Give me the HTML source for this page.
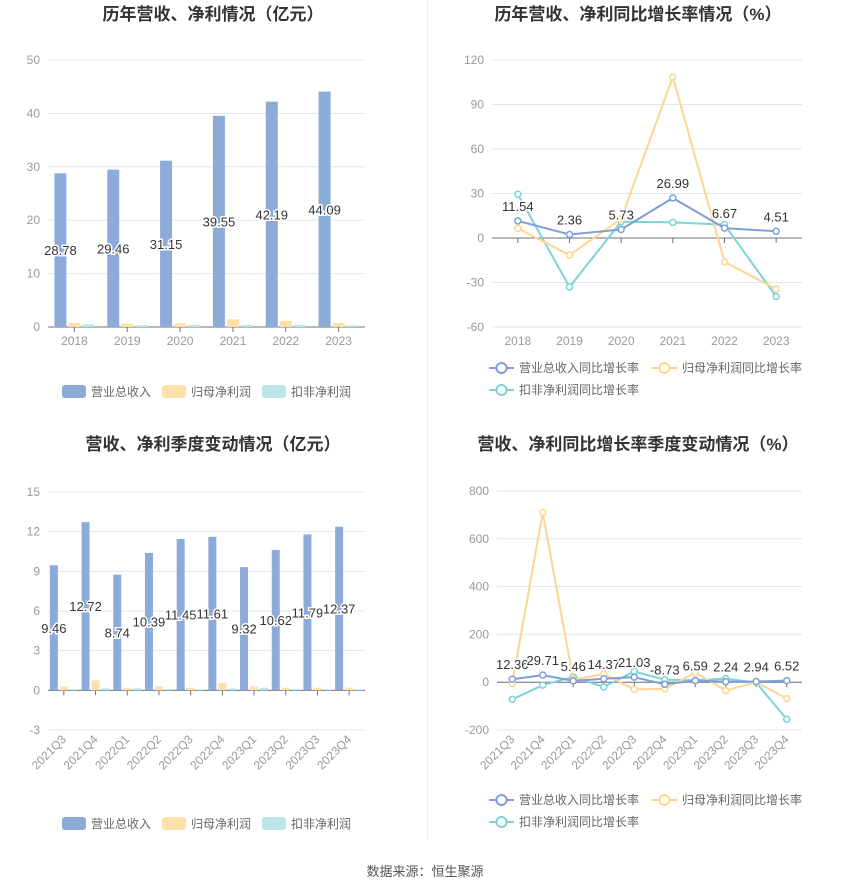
<!DOCTYPE html>
<html><head><meta charset="utf-8"><style>
body{margin:0;background:#fff;font-family:"Liberation Sans","Noto Sans CJK SC",sans-serif;}
svg text{font-family:"Liberation Sans","Noto Sans CJK SC",sans-serif;}
</style></head><body>
<svg id="s" width="850" height="891" xmlns="http://www.w3.org/2000/svg">
<line x1="427.5" y1="0" x2="427.5" y2="840" stroke="#eef0f4"/>
<text x="213" y="20" text-anchor="middle" font-size="17" font-weight="bold" fill="#333">历年营收、净利情况（亿元）</text>
<text x="638" y="20" text-anchor="middle" font-size="17" font-weight="bold" fill="#333">历年营收、净利同比增长率情况（%）</text>
<text x="213" y="450" text-anchor="middle" font-size="17" font-weight="bold" fill="#333">营收、净利季度变动情况（亿元）</text>
<text x="638" y="450" text-anchor="middle" font-size="17" font-weight="bold" fill="#333">营收、净利同比增长率季度变动情况（%）</text>
<text x="425" y="876" text-anchor="middle" font-size="13" fill="#555">数据来源：恒生聚源</text>
</svg>
<script>
const years=["2018","2019","2020","2021","2022","2023"];
const revenue=[28.78,29.46,31.15,39.55,42.19,44.09];
const netProfit=[0.75,0.6,0.7,1.45,1.15,0.75];
const deductedProfit=[0.5,0.35,0.4,0.4,0.4,0.3];
const yTicks1=[0,10,20,30,40,50];
const revGrowth=[11.54,2.36,5.73,26.99,6.67,4.51];
const npGrowth=[6.5,-11.5,13,108.5,-16,-34.5];
const dpGrowth=[29.5,-33,11,10.5,9,-39.5];
const yTicks2=[-60,-30,0,30,60,90,120];
const quarters=["2021Q3","2021Q4","2022Q1","2022Q2","2022Q3","2022Q4","2023Q1","2023Q2","2023Q3","2023Q4"];
const qRevenue=[9.46,12.72,8.74,10.39,11.45,11.61,9.32,10.62,11.79,12.37];
const qNetProfit=[0.3,0.75,0.2,0.3,0.2,0.55,0.3,0.2,0.2,0.2];
const qDeducted=[0.08,0.15,0.15,0.1,0.08,0.15,0.2,0.1,0.08,0.05];
const yTicks3=[-3,0,3,6,9,12,15];
const qRevGrowth=[12.36,29.71,5.46,14.37,21.03,-8.73,6.59,2.24,2.94,6.52];
const qNpGrowth=[-5,710,10,35,-30,-28,40,-35,0,-68];
const qDpGrowth=[-72,-12,22,-20,45,10,8,15,-2,-155];
const yTicks4=[-200,0,200,400,600,800];

const NS="http://www.w3.org/2000/svg",svg=document.getElementById('s');
const C={b:"#8cabd9",o:"#ffe0a8",t:"#b9e6e8",bl:"#7f9fd8",ol:"#ffd591",tl:"#7dd3d6"};
function el(t,a,p){const e=document.createElementNS(NS,t);for(const k in a)e.setAttribute(k,a[k]);(p||svg).appendChild(e);return e;}
function txt(x,y,s,a,p){const e=el('text',Object.assign({x:x,y:y},a),p);e.textContent=s;return e;}

function axes(g,x0,x1,yTop,yBot,ticks,cats,rot){
  const mn=ticks[0],mx=ticks[ticks.length-1];
  const Y=v=>yBot-(v-mn)/(mx-mn)*(yBot-yTop);
  ticks.forEach(t=>{
    const gl=el('line',{x1:x0,x2:x1,y1:Y(t),y2:Y(t),stroke:"#e0e6f1"},g);
    
    const tl=txt(x0-8,Y(t)+4,String(t),{"text-anchor":"end","font-size":12,fill:"#999"},g);
    
  });
  const bw=(x1-x0)/cats.length;const X=i=>x0+bw*(i+0.5);
  const ax=el('line',{x1:x0,x2:x1,y1:Y(0),y2:Y(0),stroke:"#6e7079"},g);
  
  cats.forEach((c,i)=>{
    el('line',{x1:X(i),x2:X(i),y1:Y(0),y2:Y(0)+5,stroke:"#6e7079"},g);
    let l;
    if(rot){l=txt(X(i)+3,Y(mn)+10,c,{"text-anchor":"end","font-size":12,fill:"#999",transform:`rotate(-45 ${X(i)+3} ${Y(mn)+10})`},g);}
    else l=txt(X(i),Y(mn)+18,c,{"text-anchor":"middle","font-size":12,fill:"#999"},g);
    
  });
  return {X,Y,bw};
}
function bars(name,x0,x1,yTop,yBot,ticks,cats,s1,s2,s3,w,rot){
  const g=el('g',{});
  const {X,Y}=axes(g,x0,x1,yTop,yBot,ticks,cats,rot);
  [[s1,C.b,-1],[s2,C.o,0],[s3,C.t,1]].forEach(([s,c,k])=>{
    s.forEach((v,i)=>{
      const cx=X(i)+k*(w+2);
      const r=el('rect',{x:cx-w/2,y:Y(v),width:w,height:Y(0)-Y(v),fill:c},g);
      
    });
  });
  s1.forEach((v,i)=>{
    const l=txt(X(i)-(w+2),Y(v/2)+5,v.toFixed(2),{"text-anchor":"middle","font-size":13,fill:"#333",stroke:"#fff","stroke-width":3,"paint-order":"stroke"},g);
    
  });
}
function lines(name,x0,x1,yTop,yBot,ticks,cats,s1,s2,s3,rot){
  const g=el('g',{});
  const {X,Y}=axes(g,x0,x1,yTop,yBot,ticks,cats,rot);
  [[s3,C.tl],[s2,C.ol],[s1,C.bl]].forEach(([s,c])=>{
    const p=el('polyline',{points:s.map((v,i)=>X(i)+","+Y(v)).join(" "),fill:"none",stroke:c,"stroke-width":2},g);
    
    s.forEach((v,i)=>{const d=el('circle',{cx:X(i),cy:Y(v),r:3,fill:"#fff",stroke:c,"stroke-width":1.5},g);
      });
  });
  s1.forEach((v,i)=>{
    const l=txt(X(i),Y(v)-10,v.toFixed(2),{"text-anchor":"middle","font-size":13,fill:"#333",stroke:"#fff","stroke-width":3,"paint-order":"stroke"},g);
    
  });
}
function barLegend(y){
  const g=el('g',{});
  [["营业总收入",C.b,62],["归母净利润",C.o,162],["扣非净利润",C.t,262]].forEach(([s,c,x])=>{
    const r=el('rect',{x:x,y:y-6,width:24,height:13,rx:3,fill:c},g);
    
    txt(x+29,y+5,s,{"font-size":12,fill:"#666"},g);
  });
}
function lineLegend(y){
  const g=el('g',{});
  [["营业总收入同比增长率",C.bl,489,y],["归母净利润同比增长率",C.ol,652,y],["扣非净利润同比增长率",C.tl,489,y+22]].forEach(([s,c,x,yy])=>{
    el('line',{x1:x,x2:x+25,y1:yy,y2:yy,stroke:c,"stroke-width":2},g);
    const ci=el('circle',{cx:x+12.5,cy:yy,r:5,fill:"#fff",stroke:c,"stroke-width":2},g);
    
    txt(x+30,yy+4,s,{"font-size":12,fill:"#666"},g);
  });
}
bars("annual-bar-chart",48,365,60,327,yTicks1,years,revenue,netProfit,deductedProfit,12,false);
lines("annual-growth-chart",492,802,60,327,yTicks2,years,revGrowth,npGrowth,dpGrowth,false);
bars("quarterly-bar-chart",48,365,492,730,yTicks3,quarters,qRevenue,qNetProfit,qDeducted,8,true);
lines("quarterly-growth-chart",497,802,491,730,yTicks4,quarters,qRevGrowth,qNpGrowth,qDpGrowth,true);
barLegend(391);barLegend(823);lineLegend(368);lineLegend(800);
</script>
</body></html>
